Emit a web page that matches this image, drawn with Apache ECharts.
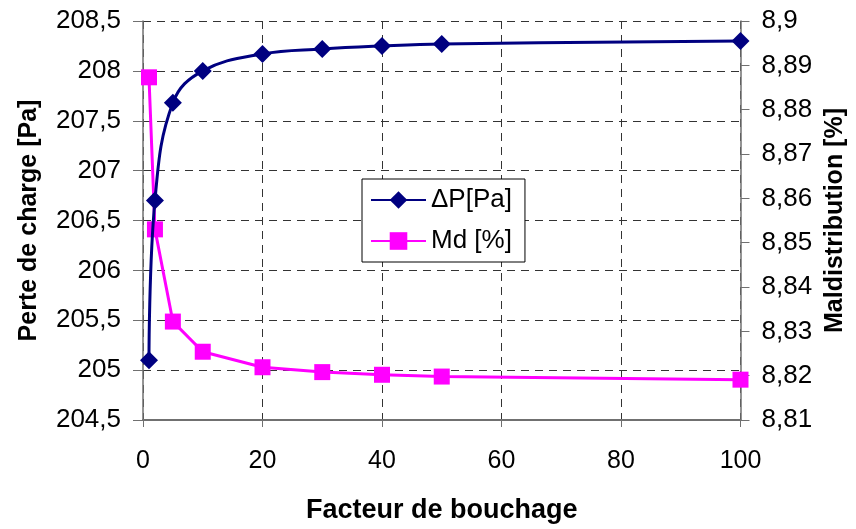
<!DOCTYPE html>
<html>
<head>
<meta charset="utf-8">
<script src="https://cdn.jsdelivr.net/npm/echarts@6/dist/echarts.min.js"></script>
<style>html,body{margin:0;padding:0;background:#fff;}#c{width:856px;height:529px;}</style>
</head>
<body>
<div id="c"></div>
<script>
var xValues = [1, 2, 5, 10, 20, 30, 40, 50, 100];
var dpValues = [205.10, 206.70, 207.68, 208.00, 208.17, 208.22, 208.25, 208.27, 208.30];
var mdValues = [8.8873, 8.8530, 8.8322, 8.8254, 8.8219, 8.8208, 8.8202, 8.8198, 8.8191];
var seriesNames = ['ΔP[Pa]', 'Md [%]'];
var xTitle = 'Facteur de bouchage';
var yLeftTitle = 'Perte de charge [Pa]';
var yRightTitle = 'Maldistribution [%]';

var FONT = '"Liberation Sans", Arial, Helvetica, sans-serif';
function fmt(d) { return function (v) { return String(Number(v.toFixed(d))).replace('.', ','); }; }
function pairs(xs, ys) { return xs.map(function (x, i) { return [x, ys[i]]; }); }

var chart = echarts.init(document.getElementById('c'), null, { renderer: 'canvas' });
chart.setOption({
  backgroundColor: '#ffffff',
  animation: false,
  textStyle: { fontFamily: FONT },
  grid: { left: 143, right: 114, top: 21, bottom: 103, containLabel: false },
  legend: {
    left: 362, top: 179, orient: 'vertical',
    backgroundColor: '#ffffff', borderColor: '#000000', borderWidth: 1,
    padding: [8, 13, 8, 8], itemGap: 15, itemWidth: 55, itemHeight: 22,
    textStyle: { fontFamily: FONT, fontSize: 26, color: '#000' },
    data: seriesNames
  },
  xAxis: {
    type: 'value', min: 0, max: 100, interval: 20,
    name: xTitle, nameLocation: 'middle', nameGap: 77,
    nameTextStyle: { fontFamily: FONT, fontSize: 27, fontWeight: 'bold', color: '#000' },
    axisLine: { show: true, lineStyle: { color: '#707070', width: 2 } },
    axisTick: { show: true, length: 7, lineStyle: { color: '#707070', width: 1 } },
    axisLabel: { fontFamily: FONT, fontSize: 25, color: '#000', margin: 29 },
    splitLine: { show: true, lineStyle: { color: '#333', width: 1, type: [8, 6] } }
  },
  yAxis: [{
    type: 'value', min: 204.5, max: 208.5, interval: 0.5, position: 'left',
    name: yLeftTitle, nameLocation: 'middle', nameGap: 101, nameRotate: 90,
    nameTextStyle: { fontFamily: FONT, fontSize: 25, fontWeight: 'bold', color: '#000' },
    axisLine: { show: true, lineStyle: { color: '#707070', width: 1.5 } },
    axisTick: { show: true, length: 10, lineStyle: { color: '#707070', width: 1 } },
    axisLabel: { fontFamily: FONT, fontSize: 26, color: '#000', margin: 22, formatter: fmt(1) },
    splitLine: { show: true, lineStyle: { color: '#333', width: 1, type: [8, 6] } }
  }, {
    type: 'value', min: 8.81, max: 8.9, interval: 0.01, position: 'right',
    name: yRightTitle, nameLocation: 'middle', nameGap: 81, nameRotate: 90,
    nameTextStyle: { fontFamily: FONT, fontSize: 25, fontWeight: 'bold', color: '#000' },
    axisLine: { show: true, lineStyle: { color: '#707070', width: 1.5 } },
    axisTick: { show: true, length: 9, lineStyle: { color: '#707070', width: 1 } },
    axisLabel: { fontFamily: FONT, fontSize: 26, color: '#000', margin: 21, formatter: fmt(2) },
    splitLine: { show: false }
  }],
  series: [{
    name: seriesNames[0], type: 'line', yAxisIndex: 0,
    data: pairs(xValues, dpValues),
    smooth: 0.4,
    symbol: 'diamond', symbolSize: 18,
    itemStyle: { color: '#000080' },
    lineStyle: { color: '#000080', width: 3 },
    z: 3
  }, {
    name: seriesNames[1], type: 'line', yAxisIndex: 1,
    data: pairs(xValues, mdValues),
    symbol: 'rect', symbolSize: 16,
    itemStyle: { color: '#ff00ff' },
    lineStyle: { color: '#ff00ff', width: 3 },
    z: 2
  }]
});
</script>
</body>
</html>
